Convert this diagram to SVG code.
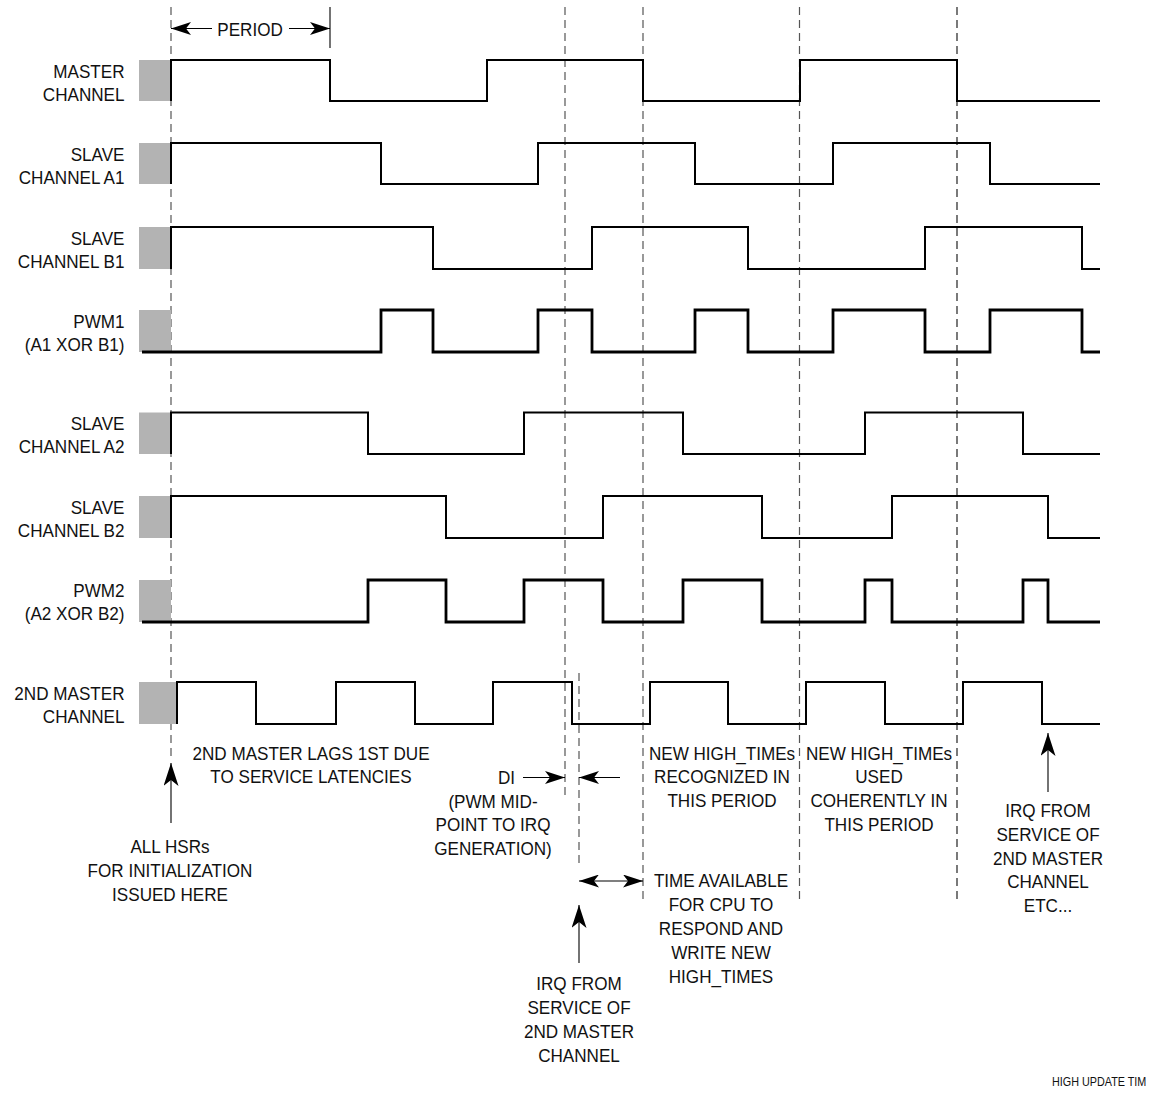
<svg xmlns="http://www.w3.org/2000/svg" width="1151" height="1100" viewBox="0 0 1151 1100">
<style>
text{font-family:"Liberation Sans",Arial,sans-serif;font-size:19px;fill:#111}
.l{text-anchor:end}
.c{text-anchor:middle}
.box{fill:#b3b3b3}
.w{fill:none;stroke:#000;stroke-width:2;stroke-linejoin:miter}
.p{stroke-width:2.8}
.d{fill:none;stroke:#555;stroke-width:1.2;stroke-dasharray:8,5}
.a{fill:none;stroke:#000;stroke-width:1.1}
</style>
<defs>
<marker id="ah" markerUnits="userSpaceOnUse" markerWidth="20" markerHeight="13" viewBox="0 0 20 13" refX="20" refY="6.5" orient="auto-start-reverse">
<path d="M0,0 L20,6.5 L0,13 L5,6.5 Z" fill="#000"/>
</marker>
<marker id="ahb" markerUnits="userSpaceOnUse" markerWidth="23" markerHeight="15" viewBox="0 0 23 15" refX="23" refY="7.5" orient="auto">
<path d="M0,0 L23,7.5 L0,15 L6,7.5 Z" fill="#000"/>
</marker>
</defs>
<rect width="1151" height="1100" fill="#fff"/>

<g id="connectors">
<path class="d" d="M171,7 V757"/>
<path class="d" d="M565,7 V798"/>
<path class="d" d="M643,7 V903"/>
<path class="d" d="M799.5,7 V903"/>
<path class="d" d="M957,7 V903" style="stroke:#222"/>
<path class="d" d="M579,673 V867"/>
<path class="a" d="M330,7 V48"/>
<path class="a" d="M212,28.5 H171" marker-end="url(#ah)"/>
<path class="a" d="M289,28.5 H330" marker-end="url(#ah)"/>
<path class="a" d="M171,823 V763" marker-end="url(#ahb)"/>
<path class="a" d="M523,777.5 H565" marker-end="url(#ah)"/>
<path class="a" d="M620,777.5 H579" marker-end="url(#ah)"/>
<path class="a" d="M579,881 H643" marker-start="url(#ah)" marker-end="url(#ah)"/>
<path class="a" d="M579,963 V905" marker-end="url(#ahb)"/>
<path class="a" d="M1048,792 V733" marker-end="url(#ahb)"/>
</g>

<g id="period-label"><text class="c" transform="translate(250,35.5) scale(0.9,1)">PERIOD</text></g>

<g id="master">
<rect class="box" x="139" y="60" width="32" height="41"/>
<path class="w" d="M171,101 V60 H330 V101 H487 V60 H643 V101 H800 V60 H957 V101 H1100"/>
<text class="l" transform="translate(124.5,77.5) scale(0.9,1)"><tspan x="0" y="0">MASTER</tspan><tspan x="0" y="23.5">CHANNEL</tspan></text>
</g>

<g id="slave-a1">
<rect class="box" x="139" y="143" width="32" height="41"/>
<path class="w" d="M171,184 V143 H381 V184 H538 V143 H695 V184 H833 V143 H990 V184 H1100"/>
<text class="l" transform="translate(124.5,160.5) scale(0.9,1)"><tspan x="0" y="0">SLAVE</tspan><tspan x="0" y="23.5">CHANNEL A1</tspan></text>
</g>

<g id="slave-b1">
<rect class="box" x="139" y="227" width="32" height="42"/>
<path class="w" d="M171,269 V227 H433 V269 H592 V227 H748 V269 H925 V227 H1082 V269 H1100"/>
<text class="l" transform="translate(124.5,244.5) scale(0.9,1)"><tspan x="0" y="0">SLAVE</tspan><tspan x="0" y="23.5">CHANNEL B1</tspan></text>
</g>

<g id="pwm1">
<rect class="box" x="139" y="310" width="32" height="42"/>
<path class="w p" d="M142,352 H381 V310 H433 V352 H538 V310 H592 V352 H695 V310 H748 V352 H833 V310 H925 V352 H990 V310 H1082 V352 H1100"/>
<text class="l" transform="translate(124.5,328) scale(0.9,1)"><tspan x="0" y="0">PWM1</tspan><tspan x="0" y="23.5">(A1 XOR B1)</tspan></text>
</g>

<g id="slave-a2">
<rect class="box" x="139" y="412.5" width="32" height="41.5"/>
<path class="w" d="M171,454 V412.5 H368 V454 H524 V412.5 H683 V454 H865 V412.5 H1023 V454 H1100"/>
<text class="l" transform="translate(124.5,430) scale(0.9,1)"><tspan x="0" y="0">SLAVE</tspan><tspan x="0" y="23.5">CHANNEL A2</tspan></text>
</g>

<g id="slave-b2">
<rect class="box" x="139" y="496" width="32" height="42"/>
<path class="w" d="M171,538 V496 H446 V538 H603 V496 H762 V538 H892 V496 H1048 V538 H1100"/>
<text class="l" transform="translate(124.5,513.5) scale(0.9,1)"><tspan x="0" y="0">SLAVE</tspan><tspan x="0" y="23.5">CHANNEL B2</tspan></text>
</g>

<g id="pwm2">
<rect class="box" x="139" y="580" width="32" height="42"/>
<path class="w p" d="M142,622 H368 V580 H446 V622 H524 V580 H603 V622 H683 V580 H762 V622 H865 V580 H892 V622 H1023 V580 H1048 V622 H1100"/>
<text class="l" transform="translate(124.5,597) scale(0.9,1)"><tspan x="0" y="0">PWM2</tspan><tspan x="0" y="23.5">(A2 XOR B2)</tspan></text>
</g>

<g id="master2">
<rect class="box" x="139" y="682" width="38" height="42"/>
<path class="w" d="M177,724 V682 H256 V724 H336 V682 H415 V724 H493 V682 H572 V724 H650 V682 H728 V724 H806 V682 H885 V724 H963 V682 H1042 V724 H1100"/>
<text class="l" transform="translate(124.5,699.5) scale(0.9,1)"><tspan x="0" y="0">2ND MASTER</tspan><tspan x="0" y="23.5">CHANNEL</tspan></text>
</g>

<g id="note-lag"><text class="c" transform="translate(311,760) scale(0.9,1)"><tspan x="0" y="0">2ND MASTER LAGS 1ST DUE</tspan><tspan x="0" y="23.5">TO SERVICE LATENCIES</tspan></text></g>

<g id="note-init"><text class="c" transform="translate(170,853) scale(0.9,1)"><tspan x="0" y="0">ALL HSRs</tspan><tspan x="0" y="24">FOR INITIALIZATION</tspan><tspan x="0" y="48">ISSUED HERE</tspan></text></g>

<g id="note-di">
<text transform="translate(498,783.5) scale(0.9,1)">DI</text>
<text class="c" transform="translate(493,807.5) scale(0.9,1)"><tspan x="0" y="0">(PWM MID-</tspan><tspan x="0" y="24">POINT TO IRQ</tspan><tspan x="0" y="48">GENERATION)</tspan></text>
</g>

<g id="note-recognized"><text class="c" transform="translate(722,760) scale(0.9,1)"><tspan x="0" y="0">NEW HIGH_TIMEs</tspan><tspan x="0" y="23.5">RECOGNIZED IN</tspan><tspan x="0" y="47.5">THIS PERIOD</tspan></text></g>

<g id="note-used"><text class="c" transform="translate(879,760) scale(0.9,1)"><tspan x="0" y="0">NEW HIGH_TIMEs</tspan><tspan x="0" y="23.5">USED</tspan><tspan x="0" y="47.5">COHERENTLY IN</tspan><tspan x="0" y="71">THIS PERIOD</tspan></text></g>

<g id="note-time"><text class="c" transform="translate(721,887) scale(0.9,1)"><tspan x="0" y="0">TIME AVAILABLE</tspan><tspan x="0" y="24.5">FOR CPU TO</tspan><tspan x="0" y="48.5">RESPOND AND</tspan><tspan x="0" y="72.5">WRITE NEW</tspan><tspan x="0" y="96.5">HIGH_TIMES</tspan></text></g>

<g id="note-irq1"><text class="c" transform="translate(579,990) scale(0.9,1)"><tspan x="0" y="0">IRQ FROM</tspan><tspan x="0" y="24">SERVICE OF</tspan><tspan x="0" y="48">2ND MASTER</tspan><tspan x="0" y="72">CHANNEL</tspan></text></g>

<g id="note-irq2"><text class="c" transform="translate(1048,817) scale(0.9,1)"><tspan x="0" y="0">IRQ FROM</tspan><tspan x="0" y="24">SERVICE OF</tspan><tspan x="0" y="48">2ND MASTER</tspan><tspan x="0" y="71.5">CHANNEL</tspan><tspan x="0" y="95.5">ETC...</tspan></text></g>

<g id="caption"><text transform="translate(1052,1086) scale(0.9,1)" style="font-size:12px">HIGH UPDATE TIM</text></g>
</svg>
